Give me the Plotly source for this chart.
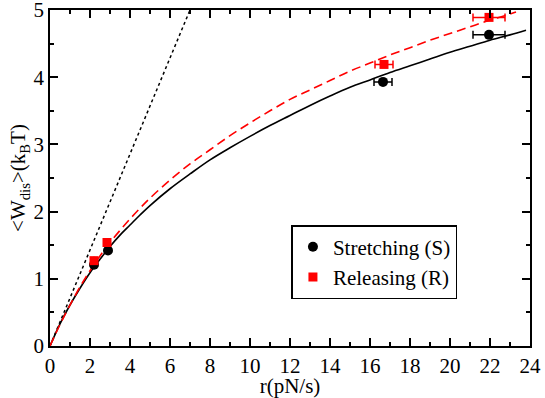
import plotly.graph_objects as go

# measured points
r_s = [2.2, 2.9, 16.65, 21.95]
w_s = [1.21, 1.42, 3.93, 4.63]
err_s = [0.0, 0.0, 0.45, 0.8]

r_r = [2.2, 2.85, 16.7, 21.95]
w_r = [1.27, 1.54, 4.19, 4.89]
err_r = [0.0, 0.0, 0.45, 0.8]

# fitted curves
fit_x_s = [0, 0.5, 1, 1.5, 2, 2.5, 3, 3.5, 4, 4.5, 5, 6, 7, 8, 9, 10, 11, 12,
           13, 14, 15, 16, 17, 18, 19, 20, 21, 22, 23, 23.8]
fit_y_s = [0, 0.33, 0.61, 0.86, 1.09, 1.29, 1.48, 1.65, 1.80, 1.95, 2.09, 2.34,
           2.56, 2.77, 2.95, 3.12, 3.28, 3.43, 3.58, 3.72, 3.85, 3.96, 4.07,
           4.17, 4.27, 4.37, 4.46, 4.55, 4.63, 4.70]

fit_x_r = [0, 0.5, 1, 1.5, 2, 2.5, 3, 3.5, 4, 4.5, 5, 6, 7, 8, 9, 10, 11, 12,
           13, 14, 15, 16, 17, 18, 19, 20, 21, 22, 23, 23.3]
fit_y_r = [0, 0.32, 0.61, 0.88, 1.12, 1.34, 1.54, 1.72, 1.89, 2.05, 2.20, 2.47,
           2.71, 2.92, 3.13, 3.32, 3.50, 3.67, 3.81, 3.95, 4.09, 4.21, 4.33,
           4.44, 4.55, 4.65, 4.75, 4.85, 4.94, 4.97]

# linear limit
lin_x = [0, 7]
lin_y = [0, 5]

FONT = '"Liberation Serif", "DejaVu Serif", serif'

fig = go.Figure()

fig.add_trace(go.Scatter(x=lin_x, y=lin_y, mode='lines', showlegend=False,
                         line=dict(color='black', width=1.5, dash='dot')))
fig.add_trace(go.Scatter(x=fit_x_s, y=fit_y_s, mode='lines', showlegend=False,
                         line=dict(color='black', width=1.6, shape='spline')))
fig.add_trace(go.Scatter(x=fit_x_r, y=fit_y_r, mode='lines', showlegend=False,
                         line=dict(color='#ff0000', width=1.6, dash='9px,5px',
                                   shape='spline')))

fig.add_trace(go.Scatter(
    x=r_s, y=w_s, mode='markers', name='Stretching (S)',
    marker=dict(symbol='circle', size=10, color='black'),
    error_x=dict(type='data', array=err_s, color='black', thickness=1.5, width=4)
))
fig.add_trace(go.Scatter(
    x=r_r, y=w_r, mode='markers', name='Releasing (R)',
    marker=dict(symbol='square', size=9, color='#ff0000'),
    error_x=dict(type='data', array=err_r, color='#ff0000', thickness=1.5, width=4)
))

axis_common = dict(
    showline=True, linecolor='black', linewidth=1.5, mirror='ticks',
    ticks='inside', ticklen=8, tickwidth=1.5, tickcolor='black',
    showgrid=False, zeroline=False, automargin=False,
    ticklabeloverflow='allow',
    tickfont=dict(family=FONT, size=21, color='black'),
)

fig.update_layout(
    width=545, height=398,
    plot_bgcolor='white', paper_bgcolor='white',
    margin=dict(l=50, r=15, t=10, b=52),
    font=dict(family=FONT, color='black', size=20),
    xaxis=dict(
        range=[0, 24], dtick=2, tick0=0,
        minor=dict(dtick=1, ticks='inside', ticklen=4, tickwidth=1.5, tickcolor='black'),
        title=dict(text='r(pN/s)', font=dict(family=FONT, size=21), standoff=2),
        **axis_common
    ),
    yaxis=dict(
        range=[0, 5], dtick=1, tick0=0,
        minor=dict(dtick=0.5, ticks='inside', ticklen=4, tickwidth=1.5, tickcolor='black'),
        title=dict(text='&lt;W<sub>dis</sub>&gt;(k<sub>B</sub>T)',
                   font=dict(family=FONT, size=21), standoff=2),
        **axis_common
    ),
    legend=dict(
        x=0.503, y=0.36, xanchor='left', yanchor='top',
        bgcolor='white', bordercolor='black', borderwidth=1.5,
        font=dict(family=FONT, size=21, color='black'),
        itemwidth=30, tracegroupgap=0
    ),
)

# drop the default page margin so the figure sits at the window's corner
fig.write_html("out.html", config={'displayModeBar': False},
               post_script="document.body.style.margin='0';")
